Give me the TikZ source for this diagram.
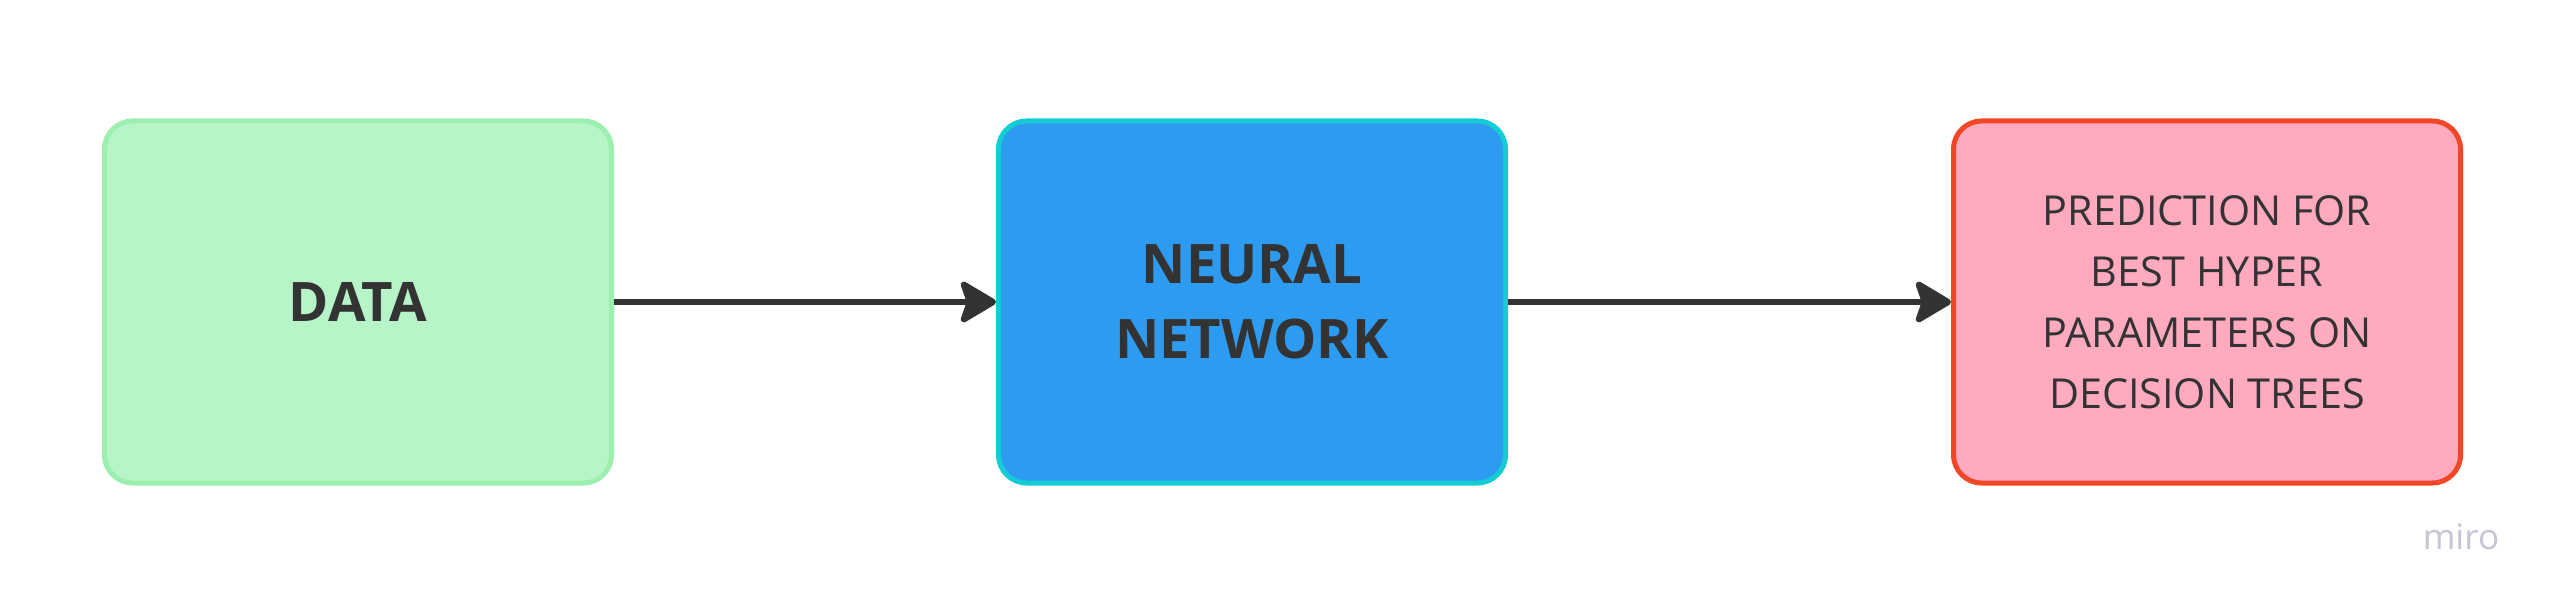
\documentclass[tikz,border=0pt]{standalone}
\usepackage{fontspec}
\setmainfont{Open Sans}
\usetikzlibrary{arrows.meta}
\definecolor{txt}{HTML}{333333}
\definecolor{datafill}{HTML}{B7F5C8}
\definecolor{dataline}{HTML}{9DEFB0}
\definecolor{nnfill}{HTML}{2D9BF0}
\definecolor{nnline}{HTML}{14CDD4}
\definecolor{predfill}{HTML}{FFAABF}
\definecolor{predline}{HTML}{F24726}
\definecolor{mirogray}{HTML}{C4C6D4}
\tikzset{
  box/.style={rectangle, rounded corners=16pt, line width=2.85pt,
    minimum width=288.5pt, minimum height=206pt, inner sep=0pt,
    align=center, text=txt},
  boldtext/.style={font=\fontsize{31}{42.7}\selectfont\bfseries},
  regtext/.style={font=\fontsize{23.5}{34.7}\selectfont},
  flow/.style={draw=txt, line width=3.6pt,
    -{Stealth[length=23pt,width=27pt,inset=4.5pt,round]}},
}
\begin{document}
\begin{tikzpicture}[x=0.2mm,y=-0.2mm]
\useasboundingbox[fill=white] (0,0) rectangle (2561,610);
\node[box, boldtext, fill=datafill, draw=dataline] (data) at (358,302) {DATA};
\node[box, boldtext, fill=nnfill, draw=nnline] (nn) at (1252,302) {NEURAL\\NETWORK};
\node[box, regtext, fill=predfill, draw=predline] (pred) at (2207,302)
  {PREDICTION FOR\\BEST HYPER\\PARAMETERS ON\\DECISION TREES};
\draw[flow] (data.east) -- (nn.west);
\draw[flow] (nn.east) -- (pred.west);
\node[text=mirogray, font=\fontsize{20}{22}\selectfont, inner sep=0pt] (miro) at (2461,537) {miro};
\end{tikzpicture}
\end{document}
